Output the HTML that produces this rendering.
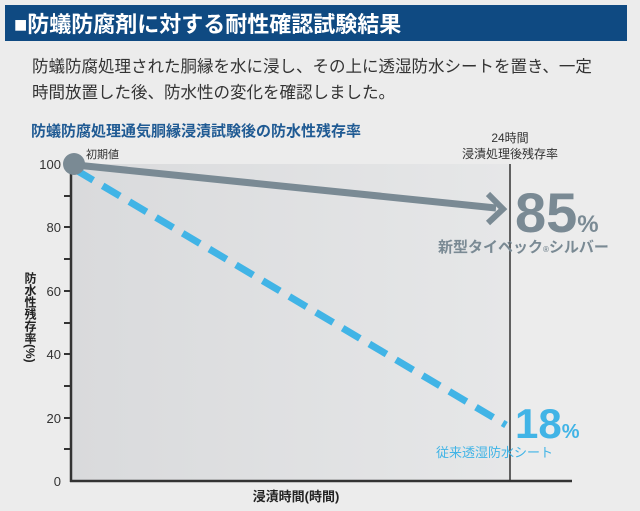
<!DOCTYPE html>
<html><head><meta charset="utf-8"><style>
body{margin:0;width:640px;height:511px;background:#ececec;font-family:"Liberation Sans","Noto Sans CJK JP",sans-serif;overflow:hidden}
</style></head><body>
<svg width="640" height="511" xmlns="http://www.w3.org/2000/svg" style="position:absolute;left:0;top:0">
<defs><linearGradient id="g" x1="0" x2="1"><stop offset="0" stop-color="#d9dadc"/><stop offset="1" stop-color="#e6e7e8"/></linearGradient></defs>
<rect x="5" y="5" width="622" height="36" fill="#0f4a82"/>
<text x="14" y="32" font-size="22" font-weight="bold" fill="#fff" font-family="Liberation Sans,Noto Sans CJK JP,sans-serif">■防蟻防腐剤に対する耐性確認試験結果</text>
<text x="32" y="72" font-size="16.5" fill="#333" font-family="Liberation Sans,Noto Sans CJK JP,sans-serif">防蟻防腐処理された胴縁を水に浸し、その上に透湿防水シートを置き、一定</text>
<text x="32" y="98" font-size="16.5" fill="#333" font-family="Liberation Sans,Noto Sans CJK JP,sans-serif">時間放置した後、防水性の変化を確認しました。</text>
<text x="31" y="136" font-size="15" font-weight="bold" fill="#1f5a93" font-family="Liberation Sans,Noto Sans CJK JP,sans-serif">防蟻防腐処理通気胴縁浸漬試験後の防水性残存率</text>
<text x="510" y="142" font-size="12" fill="#333" text-anchor="middle" font-family="Liberation Sans,Noto Sans CJK JP,sans-serif">24時間</text>
<text x="510" y="158" font-size="12" fill="#333" text-anchor="middle" font-family="Liberation Sans,Noto Sans CJK JP,sans-serif">浸漬処理後残存率</text>
<text x="86" y="158" font-size="11" fill="#333" font-family="Liberation Sans,Noto Sans CJK JP,sans-serif">初期値</text>
<rect x="71" y="164" width="439" height="317" fill="url(#g)"/>
<g stroke="#333" stroke-width="2.5">
<line x1="71" y1="160" x2="71" y2="482"/>
<line x1="70" y1="481" x2="572" y2="481"/>
<line x1="510" y1="164" x2="510" y2="482" stroke-width="1.5"/>
</g>
<g stroke="#333" stroke-width="2">
<line x1="64" y1="164" x2="71" y2="164"/><line x1="64" y1="196" x2="71" y2="196"/>
<line x1="64" y1="227" x2="71" y2="227"/><line x1="64" y1="259" x2="71" y2="259"/>
<line x1="64" y1="291" x2="71" y2="291"/><line x1="64" y1="323" x2="71" y2="323"/>
<line x1="64" y1="354" x2="71" y2="354"/><line x1="64" y1="386" x2="71" y2="386"/>
<line x1="64" y1="418" x2="71" y2="418"/><line x1="64" y1="449" x2="71" y2="449"/>
</g>
<g font-size="13" fill="#333" text-anchor="end">
<text x="61" y="169">100</text><text x="61" y="232">80</text><text x="61" y="296">60</text>
<text x="61" y="359">40</text><text x="61" y="423">20</text><text x="61" y="486">0</text>
</g>
<text x="30" y="272" font-size="12" font-weight="bold" fill="#222" style="writing-mode:vertical-rl;glyph-orientation-vertical:0" font-family="Liberation Sans,Noto Sans CJK JP,sans-serif">防水性残存率(%)</text>
<text x="296" y="501" font-size="13" font-weight="bold" fill="#222" text-anchor="middle" font-family="Liberation Sans,Noto Sans CJK JP,sans-serif">浸漬時間(時間)</text>
<line x1="76" y1="170" x2="506" y2="425" stroke="#41b4e6" stroke-width="7" stroke-dasharray="20,11"/>
<line x1="76" y1="165" x2="496" y2="208" stroke="#7a8a94" stroke-width="7"/>
<polyline points="488,194 503,209 488,223" fill="none" stroke="#7a8a94" stroke-width="6"/>
<circle cx="74" cy="164" r="11" fill="#7a8a94"/>
<text x="515" y="232" font-size="56" font-weight="bold" fill="#7a8a94">85<tspan font-size="24">%</tspan></text>
<text x="438" y="252" font-size="15" font-weight="bold" fill="#7a8a94" font-family="Liberation Sans,Noto Sans CJK JP,sans-serif">新型タイベック<tspan font-size="8">®</tspan>シルバー</text>
<text x="515" y="438" font-size="42" font-weight="bold" fill="#41b4e6">18<tspan font-size="20">%</tspan></text>
<text x="436" y="457" font-size="13" fill="#41b4e6" font-family="Liberation Sans,Noto Sans CJK JP,sans-serif">従来透湿防水シート</text>
</svg>
</body></html>
